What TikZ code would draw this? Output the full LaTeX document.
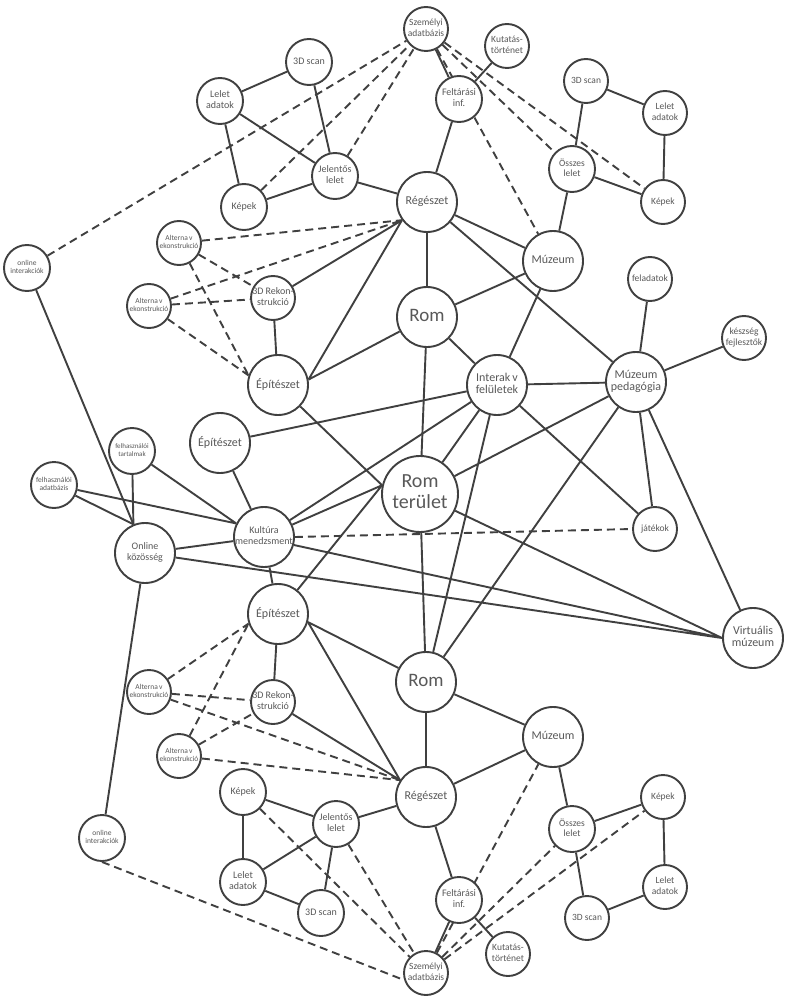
\documentclass[tikz,border=0pt]{standalone}
\usepackage{fontspec}
\setmainfont{Carlito}
\usetikzlibrary{backgrounds}
\definecolor{ln}{HTML}{404040}
\definecolor{tx}{HTML}{595959}
\newcommand\ctx[1]{\makebox[0pt]{\begin{tabular}{@{}c@{}}#1\end{tabular}}}
\tikzset{
  nd/.style={circle,draw=ln,line width=1.9pt,fill=white,inner sep=0pt,text=tx,minimum size=#1},
  fa/.style={font=\fontsize{7}{7.6}\selectfont},
  fb/.style={font=\fontsize{7.5}{8.2}\selectfont},
  fc/.style={font=\fontsize{9.5}{10.2}\selectfont},
  fd/.style={font=\fontsize{10}{10.8}\selectfont},
  fe/.style={font=\fontsize{12}{12.6}\selectfont},
  fr/.style={font=\fontsize{19}{20}\selectfont},
  ft/.style={font=\fontsize{20}{21}\selectfont},
  sl/.style={draw=ln,line width=1.9pt},
  dl/.style={draw=ln,line width=1.9pt,dash pattern=on 8pt off 5pt},
}
\begin{document}
\begin{tikzpicture}[x=1pt,y=-1pt]
\useasboundingbox (0,0) rectangle (789,1000);
% ---------- top half ----------
\node[nd=44pt,fc] (szA) at (426,29) {\ctx{Személyi\\adatbázis}};
\node[nd=44pt,fc] (kutA) at (507,46) {\ctx{Kutatás-\\történet}};
\node[nd=46pt,fd] (felA) at (459,99) {\ctx{Feltárási\\inf.}};
\node[nd=44pt,fc] (scanRA) at (586,81) {\ctx{3D scan}};
\node[nd=44pt,fc] (letRA) at (665,113) {\ctx{Lelet\\adatok}};
\node[nd=46pt,fc] (ossA) at (572,169) {\ctx{Összes\\lelet}};
\node[nd=44pt,fc] (kepRA) at (663,202) {\ctx{Képek}};
\node[nd=60pt,fe] (regA) at (427,202) {\ctx{Régészet}};
\node[nd=60pt,fe] (muzA) at (553,261) {\ctx{Múzeum}};
\node[nd=44pt,fc] (fela) at (650,279) {\ctx{feladatok}};
\node[nd=60pt,fr] (romA) at (427,317) {\ctx{Rom}};
\node[nd=46pt,fd] (scanLA) at (309,62) {\ctx{3D scan}};
\node[nd=46pt,fd] (letLA) at (220,101) {\ctx{Lelet\\adatok}};
\node[nd=46pt,fd] (jelA) at (335,176) {\ctx{Jelentős\\lelet}};
\node[nd=46pt,fd] (kepLA) at (244,207) {\ctx{Képek}};
\node[nd=44pt,fb] (altA1) at (179,243) {\ctx{Alterna\,v\\ekonstrukció}};
\node[nd=46pt,fb] (onlA) at (27,268) {\ctx{online\\interakciók}};
\node[nd=44pt,fd] (rekA) at (273,298) {\ctx{3D Rekon-\\strukció}};
\node[nd=44pt,fb] (altA2) at (149,306) {\ctx{Alterna\,v\\ekonstrukció}};
\node[nd=60pt,fe] (epA) at (278,385) {\ctx{Építészet}};
\node[nd=60pt,fe] (intr) at (497,385) {\ctx{Interak\,v\\felületek}};
\node[nd=60pt,fe] (mp) at (636,382) {\ctx{Múzeum\\pedagógia}};
\node[nd=44pt,fc] (kesz) at (744,338) {\ctx{készség\\fejlesztők}};
% ---------- middle ----------
\node[nd=60pt,fe] (epM) at (220,443) {\ctx{Építészet}};
\node[nd=46pt,fa] (fht) at (132,451) {\ctx{felhasználói\\tartalmak}};
\node[nd=46pt,fb] (fha) at (54,485) {\ctx{felhasználói\\adatbázis}};
\node[nd=76pt,ft] (rt) at (420,494) {\ctx{Rom\\terület}};
\node[nd=60pt,fd] (kult) at (264,537) {\ctx{Kultúra\\menedzsment}};
\node[nd=44pt,fc] (jat) at (655,529) {\ctx{játékok}};
\node[nd=60pt,fd] (onk) at (145,553) {\ctx{Online\\közösség}};
\node[nd=60pt,fe] (epB) at (278,614) {\ctx{Építészet}};
\node[nd=60pt,fe] (virt) at (753,638) {\ctx{Virtuális\\múzeum}};
% ---------- bottom half ----------
\node[nd=60pt,fr] (romB) at (426,682) {\ctx{Rom}};
\node[nd=44pt,fb] (altB1) at (149,692) {\ctx{Alterna\,v\\ekonstrukció}};
\node[nd=44pt,fd] (rekB) at (273,702) {\ctx{3D Rekon-\\strukció}};
\node[nd=60pt,fe] (muzB) at (553,737) {\ctx{Múzeum}};
\node[nd=44pt,fb] (altB2) at (179,756) {\ctx{Alterna\,v\\ekonstrukció}};
\node[nd=46pt,fd] (kepLB) at (243,792) {\ctx{Képek}};
\node[nd=60pt,fe] (regB) at (426,797) {\ctx{Régészet}};
\node[nd=44pt,fc] (kepRB) at (663,797) {\ctx{Képek}};
\node[nd=46pt,fd] (jelB) at (336,824) {\ctx{Jelentős\\lelet}};
\node[nd=46pt,fc] (ossB) at (572,829) {\ctx{Összes\\lelet}};
\node[nd=46pt,fb] (onlB) at (102,838) {\ctx{online\\interakciók}};
\node[nd=46pt,fd] (letLB) at (243,882) {\ctx{Lelet\\adatok}};
\node[nd=44pt,fc] (letRB) at (665,887) {\ctx{Lelet\\adatok}};
\node[nd=46pt,fd] (felB) at (459,900) {\ctx{Feltárási\\inf.}};
\node[nd=46pt,fd] (scanLB) at (321,913) {\ctx{3D scan}};
\node[nd=44pt,fc] (scanRB) at (587,918) {\ctx{3D scan}};
\node[nd=44pt,fc] (kutB) at (508,954) {\ctx{Kutatás-\\történet}};
\node[nd=44pt,fc] (szB) at (426,973) {\ctx{Személyi\\adatbázis}};
\begin{pgfonlayer}{background}
\fill[white] (0,0) rectangle (789,1000);
% top solid
\path[sl] (scanLA)--(letLA) (scanLA)--(jelA) (letLA)--(jelA) (letLA)--(kepLA)
  (kepLA)--(jelA) (jelA)--(regA) (szA)--(felA) (kutA)--(felA) (felA)--(regA)
  (scanRA)--(letRA) (scanRA)--(ossA) (letRA)--(kepRA) (ossA)--(kepRA) (ossA)--(muzA)
  (regA)--(muzA) (regA)--(romA) (regA)--(mp) (muzA)--(romA) (muzA)--(intr)
  (fela)--(mp) (kesz)--(mp) (rekA)--(regA.216) (epA.10)--(regA.216) (rekA)--(epA)
  (onlA)--(onk.112) (epA.10)--(romA) (epA)--(rt.167) (romA)--(rt) (romA)--(intr);
% top dashed
\path[dl] (onlA)--(szA) (kepLA)--(szA) (jelA)--(szA) (szA)--(muzA)
  (szA)--(ossA) (szA)--(kepRA)
  (altA1)--(regA.216) (altA2)--(regA.216) (altA1)--(rekA) (altA2)--(rekA)
  (altA1)--(epA.162) (altA2)--(epA.162);
% middle solid
\path[sl] (epM)--(intr) (epM)--(kult) (kult)--(intr) (kult)--(rt.167) (kult.-15)--(virt.180)
  (kult)--(epB) (kult)--(onk) (onk)--(virt.180) (fht)--(onk.112) (fht)--(kult.154)
  (fha)--(onk.112) (fha)--(kult.154) (intr)--(mp) (intr)--(rt) (intr)--(romB) (intr)--(jat)
  (mp)--(rt) (mp)--(romB) (mp)--(jat) (mp)--(virt) (rt)--(virt.180) (rt)--(romB)
  (epB)--(rt.167) (epB.-15)--(romB) (epB.-15)--(regB.147) (epB)--(rekB) (rekB)--(regB.147);
\path[dl] (kult.east)--(jat.west);
% bottom solid
\path[sl] (romB)--(muzB) (romB)--(regB) (regB)--(muzB) (muzB)--(ossB) (ossB)--(kepRB)
  (ossB)--(scanRB) (kepRB)--(letRB) (letRB)--(scanRB) (regB)--(felB) (felB)--(kutB)
  (felB)--(szB) (kepLB)--(letLB) (kepLB)--(jelB) (letLB)--(jelB) (letLB)--(scanLB)
  (scanLB)--(jelB) (jelB)--(regB) (onlB)--(onk);
% bottom dashed
\path[dl] (altB1)--(epB.198) (altB2)--(epB.198) (altB1)--(rekB) (altB2)--(rekB)
  (altB1)--(regB.147) (altB2)--(regB.147) (szB)--(muzB) (szB)--(ossB) (szB)--(kepRB)
  (kepLB)--(szB) (jelB)--(szB) (onlB.-90)--(szB.198);
\end{pgfonlayer}
\end{tikzpicture}
\end{document}
